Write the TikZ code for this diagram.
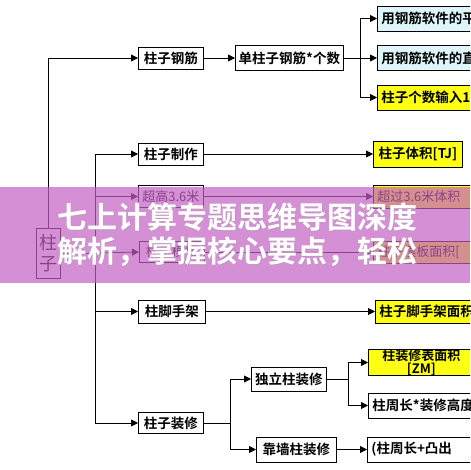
\documentclass[tikz,border=0pt]{standalone}
\usepackage{fontspec}
\usetikzlibrary{arrows.meta}
\newfontfamily\cjk{Noto Sans CJK SC}
\newfontfamily\cjkb{Noto Sans CJK SC}[BoldFont=* Bold]
\definecolor{cyanfill}{RGB}{222,246,250}
\definecolor{yelfill}{RGB}{255,255,20}
\definecolor{bannerc}{RGB}{196,96,196}
\tikzset{
  box/.style={draw=black, line width=0.8pt, fill=white, inner sep=0pt, anchor=west,
    font=\cjkb\bfseries\fontsize{13.5}{15}\selectfont},
  lbox/.style={box, text width=#1, align=left, inner xsep=4pt},
  conn/.style={line width=0.8pt, draw=black},
  arr/.style={conn, -{Triangle[length=7pt,width=7pt]}},
}
\begin{document}
\begin{tikzpicture}[x=1pt,y=-1pt]
\useasboundingbox (0,0) rectangle (470,470);
\clip (0,0) rectangle (470,470);
\fill[white] (0,0) rectangle (470,470);
% root
\node[draw=black, line width=0.8pt, inner sep=0pt, minimum width=24pt, minimum height=50pt,
  align=center, font=\cjk\fontsize{18}{21}\selectfont] (root) at (48,253) {柱\\子};
% left column
\node[box, minimum width=65pt, minimum height=22pt] (zzgj) at (138,58) {柱子钢筋};
\node[box, minimum width=108pt, minimum height=25pt] (dzz) at (235,58) {单柱子钢筋*个数};
\node[lbox=110pt, minimum height=25pt, fill=cyanfill] (r1) at (377,18.5) {用钢筋软件的平};
\node[lbox=110pt, minimum height=25pt, fill=cyanfill] (r2) at (377,58) {用钢筋软件的直};
\node[lbox=110pt, minimum height=25pt, fill=yelfill] (r3) at (377,97.5) {柱子个数输入1};
\node[box, minimum width=65pt, minimum height=22pt] (zzzz) at (138,154) {柱子制作};
\node[box, minimum width=89pt, minimum height=26pt, fill=yelfill] (zztj) at (373,154) {柱子体积[TJ]};
\node[box, minimum width=65pt, minimum height=22pt, font=\cjk\fontsize{13}{15}\selectfont] (cg) at (138,196.5) {超高3.6米};
\node[lbox=110pt, minimum height=23pt, fill=yelfill, font=\cjk\fontsize{13}{15}\selectfont] (cgtj) at (373,196.5) {超过3.6米体积};
\node[box, minimum width=65pt, minimum height=21pt, font=\cjk\fontsize{13}{15}\selectfont] (mb) at (139,252) {柱子模板};
\node[lbox=110pt, minimum height=22pt, fill=yelfill, font=\cjk\fontsize{13}{15}\selectfont] (mbmj) at (373,252) {柱子模板面积[};
\node[box, minimum width=67pt, minimum height=23pt] (jsj) at (138,311.5) {柱脚手架};
\node[lbox=110pt, minimum height=23pt, fill=yelfill] (jsjmj) at (375,311.5) {柱子脚手架面积};
\node[box, minimum width=65pt, minimum height=21pt] (zs) at (138,423) {柱子装修};
\node[box, minimum width=75pt, minimum height=24pt] (dl) at (251,379) {独立柱装修};
\node[box, minimum width=80pt, minimum height=25pt] (kq) at (256,449.5) {靠墙柱装修};
\node[box, minimum width=106pt, minimum height=25pt, fill=yelfill, align=center,
  font=\cjkb\bfseries\fontsize{13}{13}\selectfont] (bm) at (368,362.5) {柱装修表面积\\{}[ZM]};
\node[lbox=110pt, minimum height=25pt] (zc) at (368,405.5) {柱周长*装修高度};
\node[lbox=110pt, minimum height=25pt] (kqr) at (367,449.5) {(柱周长+凸出};
% junctions
\coordinate (j2) at (95,253);
\coordinate (j1) at (360,58);
\coordinate (j3) at (230,423);
\coordinate (j4) at (348,379);
% connectors
\draw[arr] (root.north) |- (zzgj.west);
\draw[arr] (zzgj.east) -- (dzz.west);
\draw[conn] (dzz.east) -- (j1);
\draw[arr] (j1) |- (r1.west);
\draw[arr] (j1) -- (r2.west);
\draw[arr] (j1) |- (r3.west);
\draw[conn] (root.east) -- (j2);
\draw[arr] (j2) |- (zzzz.west);
\draw[arr] (j2) |- (cg.west);
\draw[arr] (j2) -- (mb.west);
\draw[arr] (j2) |- (jsj.west);
\draw[arr] (j2) |- (zs.west);
\draw[arr] (zzzz.east) -- (zztj.west);
\draw[arr] (cg.east) -- (cgtj.west);
\draw[arr] (mb.east) -- (mbmj.west);
\draw[arr] (jsj.east) -- (jsjmj.west);
\draw[conn] (zs.east) -- (j3);
\draw[arr] (j3) |- (dl.west);
\draw[arr] (j3) |- (kq.west);
\draw[conn] (dl.east) -- (j4);
\draw[arr] (j4) |- (bm.west);
\draw[arr] (j4) |- (zc.west);
\draw[arr] (kq.east) -- (kqr.west);
% banner overlay
\fill[bannerc, opacity=0.7] (0,187) rectangle (470,283);
\node[font=\cjkb\bfseries\fontsize{30}{34}\selectfont, text=black!35, opacity=0.5, align=left, inner sep=0pt, anchor=west] (bshadow) at (57.8,235.5) {七上计算专题思维导图深度\\解析，掌握核心要点，轻松};
\node[font=\cjkb\bfseries\fontsize{30}{34}\selectfont, text=white, align=left, inner sep=0pt, anchor=west] (btext) at (56.8,234.5) {七上计算专题思维导图深度\\解析，掌握核心要点，轻松};
\end{tikzpicture}
\end{document}
